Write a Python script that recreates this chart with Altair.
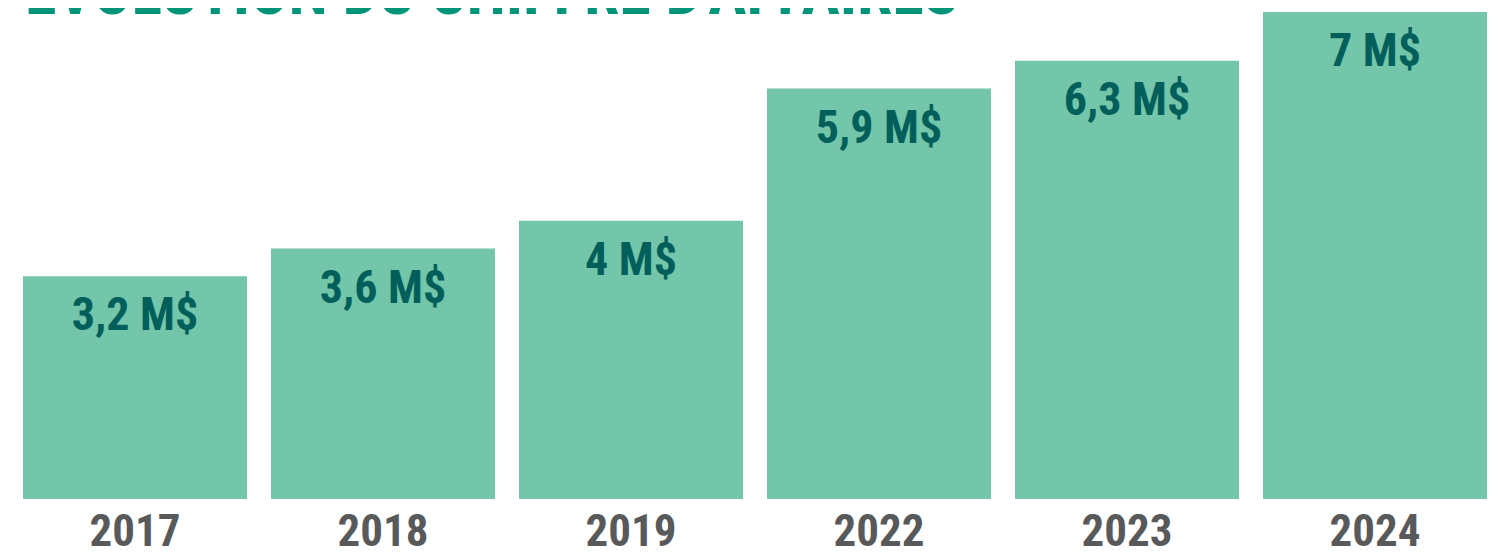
import altair as alt
import pandas as pd

years = ["2017", "2018", "2019", "2022", "2023", "2024"]
values = [3.2, 3.6, 4.0, 5.9, 6.3, 7.0]
labels = [f"{v:g}".replace(".", ",") + " M$" for v in values]

df = pd.DataFrame({"year": years, "value": values, "label": labels})

FONT = "Roboto Condensed, Roboto, sans-serif"

x = alt.X("year:N", sort=years, title=None,
          scale=alt.Scale(paddingInner=0.0968, paddingOuter=0.01613),
          axis=alt.Axis(labelAngle=0, ticks=False, domain=False, grid=False,
                        labelFont=FONT, labelFontSize=45, labelFontWeight="bold",
                        labelColor="#58595b", labelPadding=10))
y = alt.Y("value:Q", scale=alt.Scale(domain=[0, 7], nice=False, zero=True), axis=None)

bars = alt.Chart(df).mark_bar(color="#73c6a9").encode(x=x, y=y)
text = alt.Chart(df).mark_text(font=FONT, fontSize=46, fontWeight="bold",
                               color="#005f5a", baseline="alphabetic", dy=54).encode(
    x=x, y=y, text="label:N")

chart = (bars + text).properties(
    width=1472, height=487,
    autosize=alt.AutoSizeParams(type="none"),
    padding={"left": 11, "top": 4, "right": 0, "bottom": 47},
    title=alt.TitleParams("ÉVOLUTION DU CHIFFRE D'AFFAIRES", anchor="start", frame="group",
                          font=FONT, fontSize=64, fontWeight="bold", color="#009479",
                          baseline="alphabetic", offset=-66, dx=6),
).configure_view(stroke=None)

chart.save("out.html", embed_options={"renderer": "svg", "actions": False})
